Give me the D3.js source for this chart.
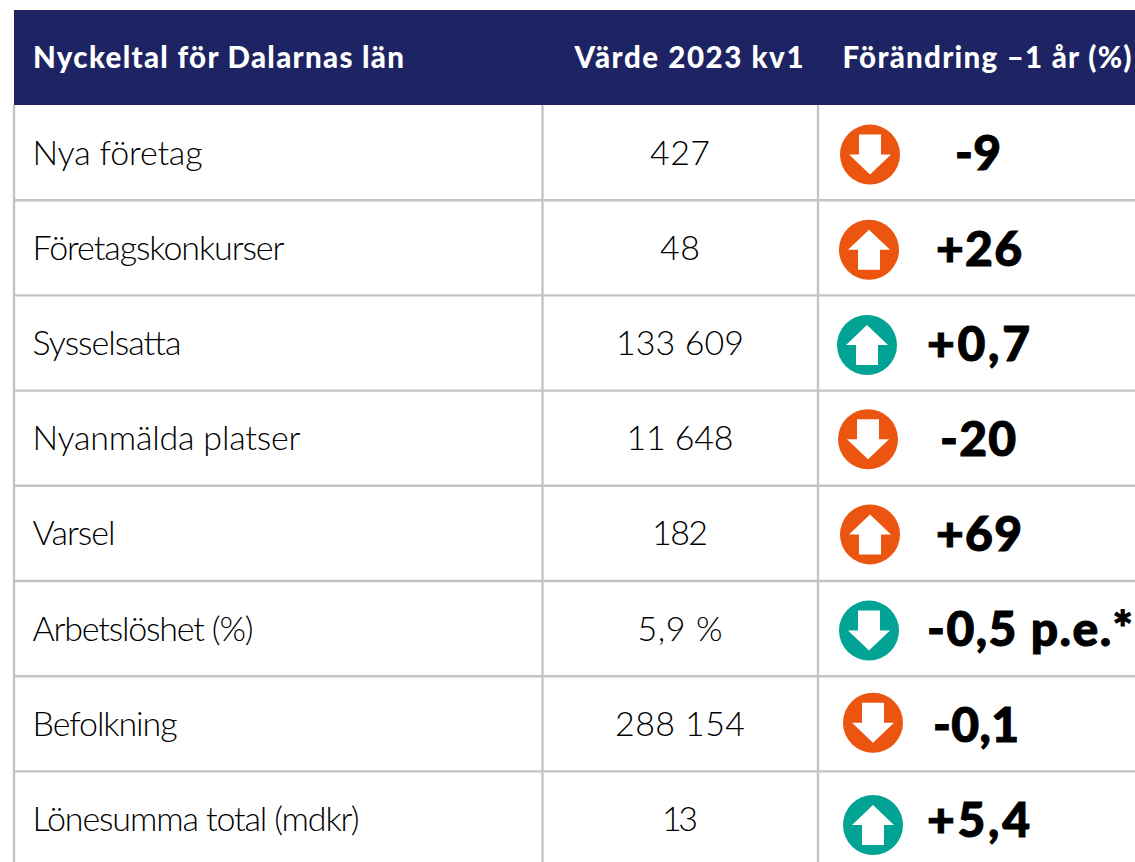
<!DOCTYPE html>
<html>
<head>
<meta charset="utf-8">
<script src="https://cdn.jsdelivr.net/npm/d3@7"></script>
<style>
  html, body { margin: 0; padding: 0; background: #fff; overflow: hidden; }
  svg { display: block; }
  text { font-family: "Lato", "Open Sans", sans-serif; }
</style>
</head>
<body>
<div id="chart"></div>
<script>
'use strict';

var headers = ['Nyckeltal för Dalarnas län', 'Värde 2023 kv1', 'Förändring –1 år (%)'];
var categories = ['Nya företag', 'Företagskonkurser', 'Sysselsatta', 'Nyanmälda platser',
  'Varsel', 'Arbetslöshet (%)', 'Befolkning', 'Lönesumma total (mdkr)'];
var values = ['427', '48', '133 609', '11 648', '182', '5,9 %', '288 154', '13'];
var changes = ['-9', '+26', '+0,7', '-20', '+69', '-0,5 p.e.*', '-0,1', '+5,4'];
var directions = ['down', 'up', 'up', 'down', 'up', 'down', 'down', 'up'];
var verdicts = ['bad', 'bad', 'good', 'bad', 'bad', 'good', 'bad', 'good'];

// the icons and numbers are hand placed in the original, so they wander per row
var iconShift = [[870, 0], [869, 0], [867, 0], [868, -1], [870, -1], [869, 0], [873, -3], [873, 4]];
var changeLeft = [955, 936, 927, 940, 936, 927, 933, 927];
var changeWidth = [46, 86, 103, 76, 86, 206, 86, 103];

var width = 1135, height = 862;
var headTop = 10, headBottom = 105, rowH = 95.2;
var colLeft = 14, colMid = 542.5, colRight = 818;

var svg = d3.select('#chart').append('svg')
  .attr('width', width)
  .attr('height', height)
  .attr('viewBox', '0 0 ' + width + ' ' + height);

var y = d3.scaleBand()
  .domain(categories)
  .range([headBottom, headBottom + rowH * categories.length]);

var colors = d3.scaleOrdinal()
  .domain(['bad', 'good'])
  .range(['#eb5510', '#00a394']);

// header band
svg.append('rect')
  .attr('x', colLeft)
  .attr('y', headTop)
  .attr('width', width - colLeft)
  .attr('height', headBottom - headTop)
  .attr('fill', '#1e2463');

// grid
var grid = svg.append('g')
  .attr('stroke', '#c4c4c4')
  .attr('stroke-width', 2.4);

grid.selectAll('line.row')
  .data(categories.slice(1))
  .enter().append('line')
  .attr('class', 'row')
  .attr('x1', colLeft)
  .attr('x2', width)
  .attr('y1', function(d) { return y(d); })
  .attr('y2', function(d) { return y(d); });

grid.selectAll('line.col')
  .data([colLeft, colMid, colRight])
  .enter().append('line')
  .attr('class', 'col')
  .attr('x1', function(d) { return d; })
  .attr('x2', function(d) { return d; })
  .attr('y1', headBottom)
  .attr('y2', height);

// header text
var headX = [33, 689, 987];
var headAnchor = ['start', 'middle', 'middle'];
var headWidth = [371, 229, 289];

svg.selectAll('text.head')
  .data(headers)
  .enter().append('text')
  .attr('class', 'head')
  .attr('x', function(d, i) { return headX[i]; })
  .attr('y', 67.5)
  .attr('text-anchor', function(d, i) { return headAnchor[i]; })
  .attr('textLength', function(d, i) { return headWidth[i]; })
  .attr('lengthAdjust', 'spacing')
  .attr('font-size', 29.5)
  .attr('font-weight', 900)
  .attr('fill', '#fff')
  .text(function(d) { return d; });

// rows
var labelWidth = [170, 252, 149, 268, 83, 221, 145, 327];
var valueWidth = [60, 40, 128, 107, 56, 85, 130, 36];

var row = svg.selectAll('g.row')
  .data(categories)
  .enter().append('g')
  .attr('class', 'row')
  .attr('transform', function(d) { return 'translate(0,' + (y(d) + y.bandwidth() / 2) + ')'; });

row.append('text')
  .attr('x', 32.5)
  .attr('y', 0)
  .attr('dy', '0.35em')
  .attr('textLength', function(d, i) { return labelWidth[i]; })
  .attr('font-size', 34)
  .attr('font-weight', 300)
  .attr('fill', '#000')
  .text(function(d) { return d; });

row.append('text')
  .attr('x', 680)
  .attr('y', 0)
  .attr('dy', '0.35em')
  .attr('text-anchor', 'middle')
  .attr('textLength', function(d, i) { return valueWidth[i]; })
  .attr('font-size', 34)
  .attr('font-weight', 300)
  .attr('fill', '#000')
  .text(function(d, i) { return values[i]; });

row.append('text')
  .attr('x', function(d, i) { return changeLeft[i]; })
  .attr('y', 1)
  .attr('dy', '0.35em')
  .attr('textLength', function(d, i) { return changeWidth[i]; })
  .attr('font-size', 48)
  .attr('font-weight', 900)
  .attr('fill', '#000')
  .attr('stroke', '#000')
  .attr('stroke-width', 1)
  .text(function(d, i) { return changes[i]; });

// arrow icons
function arrowPath(dir) {
  var s = dir === 'down' ? 1 : -1;
  var p = d3.path();
  p.moveTo(-11, -20 * s);
  p.lineTo(11, -20 * s);
  p.lineTo(11, 0);
  p.lineTo(21, 0);
  p.lineTo(0, 20 * s);
  p.lineTo(-21, 0);
  p.lineTo(-11, 0);
  p.closePath();
  return p.toString();
}

var icon = row.append('g')
  .attr('transform', function(d, i) {
    return 'translate(' + iconShift[i][0] + ',' + (2 + iconShift[i][1]) + ')';
  });

icon.append('circle')
  .attr('r', 30)
  .attr('fill', function(d, i) { return colors(verdicts[i]); });

icon.append('path')
  .attr('d', function(d, i) { return arrowPath(directions[i]); })
  .attr('fill', '#fff');
</script>
</body>
</html>
